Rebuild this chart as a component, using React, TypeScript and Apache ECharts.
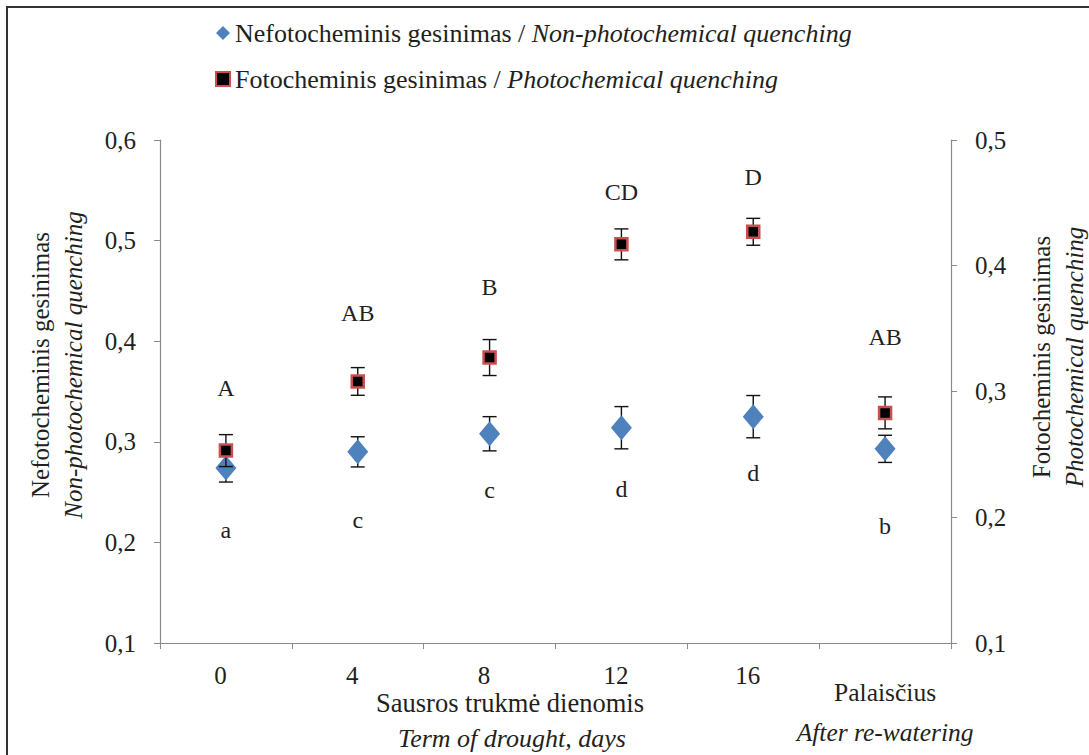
import React, { useEffect, useRef } from "react";
import * as echarts from "echarts";

const categories = ["0", "4", "8", "12", "16", "Palaisčius / After re-watering"];
const npqName = "Nefotocheminis gesinimas / Non-photochemical quenching";
const pqName = "Fotocheminis gesinimas / Photochemical quenching";
const npqValues = [0.274, 0.29, 0.308, 0.314, 0.325, 0.293];
const npqErrors = [0.014, 0.015, 0.017, 0.021, 0.021, 0.0135];
const pqValues = [0.253, 0.308, 0.327, 0.417, 0.427, 0.283];
const pqErrors = [0.0127, 0.011, 0.0143, 0.0123, 0.0107, 0.0127];
const upperLetters = ["A", "AB", "B", "CD", "D", "AB"];
const upperLetterPos = [0.3535, 0.428, 0.454, 0.548, 0.563, 0.404];
const lowerLetters = ["a", "c", "c", "d", "d", "b"];
const lowerLetterPos = [0.212, 0.222, 0.252, 0.253, 0.269, 0.216];
const leftTicks = { min: 0.1, max: 0.6, interval: 0.1 };
const rightTicks = { min: 0.1, max: 0.5, interval: 0.1 };

const FONT = "'Liberation Serif', 'DejaVu Serif', serif";
const TXT = "#231f20";
const AXIS = "#8a8a8a";

function errRender(params: any, api: any) {
  const x = api.value(0);
  const lo = api.value(1);
  const hi = api.value(2);
  const top = api.coord([x, hi]);
  const bot = api.coord([x, lo]);
  const w = 7;
  const st = { stroke: "#111", lineWidth: 1.4 };
  return {
    type: "group",
    children: [
      { type: "line", shape: { x1: top[0], y1: top[1], x2: bot[0], y2: bot[1] }, style: st },
      { type: "line", shape: { x1: top[0] - w, y1: top[1], x2: top[0] + w, y2: top[1] }, style: st },
      { type: "line", shape: { x1: bot[0] - w, y1: bot[1], x2: bot[0] + w, y2: bot[1] }, style: st },
    ],
  };
}

const fmt = (v: number) => v.toFixed(1).replace(".", ",");

function letterSeries(name: string, letters: string[], pos: number[]) {
  return {
    name,
    type: "scatter",
    yAxisIndex: 0,
    z: 6,
    symbolSize: 1,
    itemStyle: { color: "rgba(0,0,0,0)", opacity: 1 },
    silent: true,
    label: {
      show: true,
      position: "inside",
      formatter: (p: any) => letters[p.dataIndex],
      fontFamily: FONT,
      fontSize: 24,
      color: TXT,
      opacity: 1,
    },
    data: pos.map((v, i) => [i, v]),
  };
}

export default function App() {
  const ref = useRef<HTMLDivElement>(null);
  useEffect(() => {
    if (!ref.current) return;
    const chart = echarts.init(ref.current, null, { renderer: "svg" });
    const option: any = {
      animation: false,
      backgroundColor: "#fff",
      grid: { left: 160, right: 138, top: 140, bottom: 112 },
      legend: {
        orient: "vertical",
        left: 210,
        top: 13,
        itemWidth: 14,
        itemHeight: 14,
        itemGap: 16,
        selectedMode: false,
        data: [
          { name: npqName, icon: "diamond" },
          { name: pqName, icon: "rect" },
        ],
        formatter: (name: string) => {
          const [a, b] = name.split(" / ");
          return `{n|${a} / }{i|${b}}`;
        },
        textStyle: {
          color: TXT,
          fontFamily: FONT,
          fontSize: 26,
          lineHeight: 30,
          rich: {
            n: { fontFamily: FONT, fontSize: 26, color: TXT },
            i: { fontFamily: FONT, fontSize: 26, color: TXT, fontStyle: "italic" },
          },
        },
      },
      xAxis: {
        type: "category",
        data: categories,
        boundaryGap: true,
        axisLine: { lineStyle: { color: AXIS, width: 1.2 } },
        axisTick: { show: true, length: 6, lineStyle: { color: AXIS } },
        splitLine: { show: false },
        axisLabel: {
          margin: 20,
          interval: 0,
          formatter: (v: string) => {
            if (v.includes(" / ")) {
              const [a, b] = v.split(" / ");
              return `{p|${a}}\n{i|${b}}`;
            }
            return `{n|${v}}`;
          },
          rich: {
            n: { fontFamily: FONT, fontSize: 25, color: TXT, lineHeight: 25, padding: [0, 11, 0, 0] },
            p: { fontFamily: FONT, fontSize: 25.5, color: TXT, lineHeight: 58 },
            i: { fontFamily: FONT, fontSize: 25.5, color: TXT, lineHeight: 22, fontStyle: "italic" },
          },
        },
      },
      yAxis: [
        {
          type: "value",
          min: leftTicks.min,
          max: leftTicks.max,
          interval: leftTicks.interval,
          position: "left",
          axisLine: { show: true, lineStyle: { color: AXIS, width: 1.2 } },
          axisTick: { show: true, length: 6, lineStyle: { color: AXIS } },
          splitLine: { show: false },
          axisLabel: { formatter: fmt, margin: 24, color: TXT, fontFamily: FONT, fontSize: 25 },
        },
        {
          type: "value",
          min: rightTicks.min,
          max: rightTicks.max,
          interval: rightTicks.interval,
          position: "right",
          axisLine: { show: true, lineStyle: { color: AXIS, width: 1.2 } },
          axisTick: { show: true, length: 6, lineStyle: { color: AXIS } },
          splitLine: { show: false },
          axisLabel: { formatter: fmt, margin: 24, color: TXT, fontFamily: FONT, fontSize: 25 },
        },
      ],
      series: [
        {
          name: "npqErr",
          type: "custom",
          yAxisIndex: 0,
          z: 2,
          renderItem: errRender,
          encode: { x: 0, y: [1, 2] },
          data: npqValues.map((v, i) => [i, v - npqErrors[i], v + npqErrors[i]]),
        },
        {
          name: npqName,
          type: "scatter",
          yAxisIndex: 0,
          z: 3,
          symbol: "diamond",
          symbolSize: [21, 25],
          itemStyle: { color: "#4F81BD", opacity: 1 },
          data: npqValues.map((v, i) => [i, v]),
        },
        {
          name: "pqErr",
          type: "custom",
          yAxisIndex: 1,
          z: 4,
          renderItem: errRender,
          encode: { x: 0, y: [1, 2] },
          data: pqValues.map((v, i) => [i, v - pqErrors[i], v + pqErrors[i]]),
        },
        {
          name: pqName,
          type: "scatter",
          yAxisIndex: 1,
          z: 5,
          symbol: "rect",
          symbolSize: 12,
          itemStyle: { color: "#000", borderColor: "#C9504D", borderWidth: 2.5, opacity: 1 },
          data: pqValues.map((v, i) => [i, v]),
        },
        letterSeries("upper", upperLetters, upperLetterPos),
        letterSeries("lower", lowerLetters, lowerLetterPos),
      ],
      graphic: [
        {
          type: "rect",
          shape: { x: 7, y: 7, width: 1200, height: 900 },
          style: { fill: "none", stroke: "#333", lineWidth: 2 },
          silent: true,
        },
        {
          type: "text",
          x: 40,
          y: 365,
          rotation: Math.PI / 2,
          style: { text: "Nefotocheminis gesinimas", align: "center", verticalAlign: "middle", font: `25px ${FONT}`, fill: TXT },
        },
        {
          type: "text",
          x: 73,
          y: 365,
          rotation: Math.PI / 2,
          style: { text: "Non-photochemical quenching", align: "center", verticalAlign: "middle", font: `italic 25px ${FONT}`, fill: TXT },
        },
        {
          type: "text",
          x: 1041,
          y: 357,
          rotation: Math.PI / 2,
          style: { text: "Fotocheminis gesinimas", align: "center", verticalAlign: "middle", font: `25px ${FONT}`, fill: TXT },
        },
        {
          type: "text",
          x: 1074,
          y: 357,
          rotation: Math.PI / 2,
          style: { text: "Photochemical quenching", align: "center", verticalAlign: "middle", font: `italic 25px ${FONT}`, fill: TXT },
        },
        {
          type: "text",
          x: 510,
          y: 703,
          style: { text: "Sausros trukmė dienomis", align: "center", verticalAlign: "middle", font: `26.5px ${FONT}`, fill: TXT },
        },
        {
          type: "text",
          x: 512,
          y: 738,
          style: { text: "Term of drought, days", align: "center", verticalAlign: "middle", font: `italic 26px ${FONT}`, fill: TXT },
        },
      ],
    };
    chart.setOption(option);
    return () => chart.dispose();
  }, []);
  return (
    <div
      ref={ref}
      style={{ position: "fixed", left: 0, top: 0, width: 1089, height: 755, background: "#fff" }}
    />
  );
}
